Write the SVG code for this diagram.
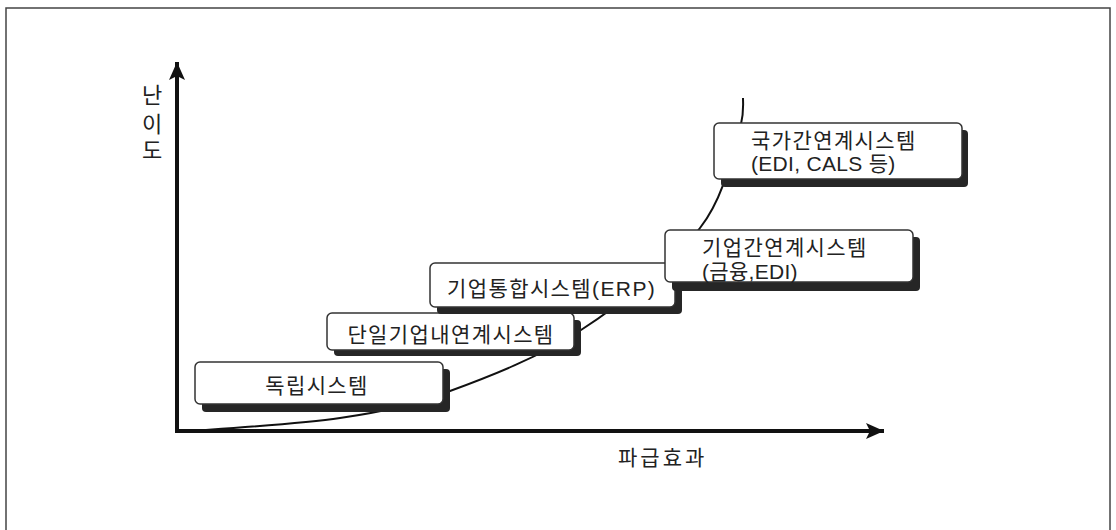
<svg xmlns="http://www.w3.org/2000/svg" width="1116" height="530" viewBox="0 0 1116 530">
<style>
.box{fill:#fff;stroke:#333;stroke-width:1.5}
.shd{fill:#262626}
.t{font-family:"Liberation Sans","Noto Sans CJK KR",sans-serif;font-size:21px;fill:#222;letter-spacing:1.4px}
.lat{letter-spacing:0.3px}
.ax{stroke:#111;stroke-width:4;fill:none}
.curve{stroke:#111;stroke-width:2;fill:none}
</style>
<defs>
<marker id="ah" markerUnits="userSpaceOnUse" markerWidth="20" markerHeight="18" refX="18" refY="9" orient="auto">
<path d="M0,1 L18,9 L0,17 L4,9 Z" fill="#111"/>
</marker>
</defs>
<rect x="6" y="8" width="1104" height="540" fill="#fff" stroke="#444" stroke-width="1.5"/>
<g id="connectors">
<path class="curve" d="M177,432 C204,429.7 294.5,424.8 340,418 C385.5,411.2 409.8,405.7 450,391 C490.2,376.3 539.3,357.2 581,330 C622.7,302.8 673.3,262.3 700,228 C726.7,193.7 733.8,145.7 741,124 C744,112 743,104 743,98"/>
<line class="ax" x1="177" y1="433" x2="177" y2="62" marker-end="url(#ah)"/>
<line class="ax" x1="175" y1="431" x2="884" y2="431" marker-end="url(#ah)"/>
</g>
<g id="axis-y-label">
<text class="t" x="152" y="103" text-anchor="middle" style="font-size:22px;letter-spacing:0">난</text>
<text class="t" x="152" y="132" text-anchor="middle" style="font-size:22px;letter-spacing:0">이</text>
<text class="t" x="152" y="158" text-anchor="middle" style="font-size:22px;letter-spacing:0">도</text>
</g>
<g id="axis-x-label">
<text class="t" x="618" y="465" style="letter-spacing:3px">파급효과</text>
</g>
<g id="n1">
<rect class="shd" x="202" y="369" width="248" height="43" rx="4"/>
<rect class="box" x="195" y="362" width="248" height="42" rx="5"/>
<text class="t" x="317" y="393" text-anchor="middle">독립시스템</text>
</g>
<g id="n2">
<rect class="shd" x="334" y="320" width="247" height="36" rx="4"/>
<rect class="box" x="327" y="313" width="247" height="37" rx="5"/>
<text class="t" x="451" y="342" text-anchor="middle">단일기업내연계시스템</text>
</g>
<g id="n3">
<rect class="shd" x="437" y="270" width="245" height="44" rx="4"/>
<rect class="box" x="430" y="263" width="245" height="44" rx="5"/>
<text class="t" x="447" y="296">기업통합시스템(ERP)</text>
</g>
<g id="n4">
<rect class="shd" x="672" y="237" width="248" height="54" rx="4"/>
<rect class="box" x="665" y="230" width="248" height="52" rx="5"/>
<text class="t" x="702" y="255">기업간연계시스템</text>
<text class="t lat" x="702" y="279">(금융,EDI)</text>
</g>
<g id="n5">
<rect class="shd" x="721" y="130" width="247" height="57" rx="4"/>
<rect class="box" x="714" y="123" width="248" height="56" rx="5"/>
<text class="t" x="751" y="148">국가간연계시스템</text>
<text class="t lat" x="751" y="171">(EDI, CALS 등)</text>
</g>
</svg>
